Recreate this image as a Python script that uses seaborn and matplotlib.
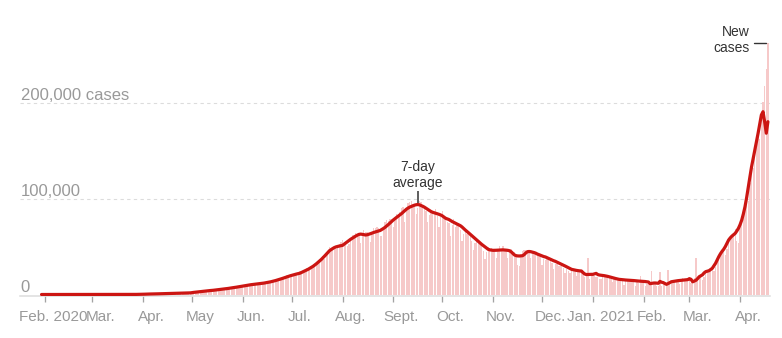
import numpy as np
import pandas as pd
import matplotlib
matplotlib.use("Agg")
import matplotlib.pyplot as plt
import matplotlib.dates as mdates
from matplotlib.transforms import ScaledTranslation, blended_transform_factory
import seaborn as sns

# Daily new cases and the 7-day average, in thousands, one list per month.
cases_2020_01 = [0, 0]  # from Jan. 30
avg_2020_01 = [0, 0]
cases_2020_02 = [0, 0, 0, 0, 0, 0, 0, 0, 0, 0, 0, 0, 0, 0, 0, 0, 0, 0, 0, 0,
                 0, 0, 0, 0, 0, 0, 0, 0, 0]
avg_2020_02 = [0, 0, 0, 0, 0, 0, 0, 0, 0, 0, 0, 0, 0, 0, 0, 0, 0, 0, 0, 0,
               0, 0, 0, 0, 0, 0, 0, 0, 0]
cases_2020_03 = [0, 0, 0, 0, 0.02, 0, 0, 0.01, 0.01, 0.01, 0.01, 0.01, 0.01, 0.02,
                 0.01, 0.03, 0.01, 0.03, 0.03, 0.05, 0.05, 0.08, 0.1, 0.1, 0.09,
                 0.09, 0.15, 0.19, 0.11, 0.11, 0.23]
avg_2020_03 = [0, 0, 0, 0, 0, 0, 0, 0, 0, 0, 0, 0, 0, 0, 0.01, 0.02, 0.02, 0.03,
               0.03, 0.04, 0.05, 0.06, 0.07, 0.08, 0.08, 0.09, 0.1, 0.11, 0.13,
               0.15, 0.18]
cases_2020_04 = [0.4, 0.5, 0.6, 0.5, 0.6, 0.5, 0.7, 0.5, 0.6, 0.9, 0.8, 0.9, 0.8,
                 1.2, 1.0, 1.1, 1.0, 1.0, 1.3, 1.6, 1.3, 1.5, 1.4, 1.7, 1.8, 1.6,
                 1.9, 1.5, 1.8, 1.9]
avg_2020_04 = [0.25, 0.32, 0.4, 0.45, 0.5, 0.52, 0.55, 0.6, 0.65, 0.7, 0.75, 0.8,
               0.85, 0.88, 0.9, 0.95, 1.0, 1.05, 1.1, 1.15, 1.2, 1.25, 1.3, 1.35,
               1.4, 1.45, 1.5, 1.55, 1.6, 1.7]
cases_2020_05 = [2.0, 2.4, 2.6, 2.5, 3.9, 2.9, 3.6, 3.4, 3.3, 3.3, 4.2, 3.6, 3.5,
                 3.7, 3.9, 3.9, 5.0, 4.9, 5.1, 5.6, 5.7, 6.1, 6.7, 6.6, 6.8, 7.0,
                 6.5, 6.4, 7.3, 7.9, 7.9]
avg_2020_05 = [2.0, 2.2, 2.4, 2.6, 2.8, 3.0, 3.2, 3.4, 3.6, 3.8, 3.9, 4.1, 4.2,
               4.4, 4.6, 4.8, 5.0, 5.2, 5.4, 5.6, 5.8, 6.1, 6.3, 6.6, 6.8, 7.1,
               7.3, 7.6, 7.9, 8.2, 8.5]
cases_2020_06 = [8.4, 8.3, 8.6, 9.3, 9.9, 9.9, 10.4, 9.9, 9.9, 9.8, 11.1, 11.3,
                 11.0, 12.0, 11.3, 10.6, 11.5, 13.6, 13.4, 14.3, 15.4, 14.8, 14.9,
                 16.9, 16.9, 18.6, 17.0, 20.0, 19.9, 18.5]
avg_2020_06 = [8.8, 9.1, 9.4, 9.7, 10.0, 10.2, 10.4, 10.6, 10.8, 11.0, 11.2, 11.4,
               11.6, 11.9, 12.2, 12.5, 12.8, 13.2, 13.6, 14.0, 14.5, 15.0, 15.5,
               16.0, 16.6, 17.2, 17.8, 18.4, 19.0, 19.5]
cases_2020_07 = [18.6, 19.1, 22.0, 20.9, 22.7, 24.9, 24.2, 22.8, 25.6, 27.1, 27.8,
                 28.6, 28.6, 28.7, 29.4, 32.7, 35.0, 34.9, 37.4, 40.4, 37.1, 40.4,
                 45.7, 49.3, 48.9, 48.7, 50.0, 47.7, 48.5, 52.1, 55.1]
avg_2020_07 = [20.0, 20.5, 21.0, 21.4, 21.8, 22.2, 23.0, 23.8, 24.6, 25.4, 26.3,
               27.3, 28.3, 29.4, 30.7, 32.0, 33.5, 35.0, 36.5, 38.2, 40.0, 41.8,
               43.7, 45.6, 46.8, 47.9, 48.9, 49.6, 50.1, 50.5, 50.8]
cases_2020_08 = [57.1, 54.7, 52.9, 50.6, 52.5, 56.3, 62.2, 62.5, 64.4, 61.5, 62.1,
                 53.6, 60.9, 66.9, 64.6, 65.0, 63.5, 55.1, 64.5, 69.7, 68.9, 70.5,
                 69.2, 61.4, 60.9, 67.2, 75.8, 77.3, 76.5, 78.8, 78.5]
avg_2020_08 = [51.2, 52.5, 53.8, 55.2, 56.5, 57.6, 58.7, 59.8, 60.8, 61.8, 62.6,
               62.9, 62.7, 62.3, 62.0, 62.2, 62.7, 63.3, 64.0, 64.6, 65.1, 65.6,
               66.1, 66.7, 67.7, 68.8, 70.0, 71.4, 72.9, 74.5, 76.0]
cases_2020_09 = [69.9, 78.4, 83.9, 83.3, 86.4, 90.6, 90.8, 75.8, 89.7, 95.7, 96.6,
                 97.6, 94.4, 92.1, 83.8, 90.1, 97.9, 96.4, 93.3, 92.6, 86.9, 75.1,
                 83.3, 86.5, 86.1, 85.4, 88.6, 82.2, 70.6, 80.5]
avg_2020_09 = [77.6, 79.0, 80.3, 81.6, 82.8, 84.2, 85.7, 87.2, 88.8, 90.0, 91.0,
               91.7, 92.4, 93.1, 93.5, 93.7, 93.4, 92.7, 91.9, 91.0, 89.9, 88.8,
               87.6, 86.5, 85.7, 85.1, 84.6, 84.1, 83.5, 82.8]
cases_2020_10 = [86.8, 81.5, 79.5, 75.8, 74.4, 61.3, 72.0, 78.5, 70.5, 73.3, 74.4,
                 66.7, 55.3, 63.5, 67.7, 63.4, 62.2, 61.9, 55.7, 46.8, 54.0, 55.8,
                 53.4, 54.4, 50.1, 45.1, 36.5, 43.9, 49.9, 48.6, 48.3]
avg_2020_10 = [81.9, 80.7, 79.4, 78.8, 78.1, 77.0, 76.0, 75.1, 74.2, 73.4, 72.6,
               71.7, 70.4, 68.8, 67.2, 65.8, 64.3, 62.8, 61.3, 59.8, 58.3, 56.8,
               55.3, 53.8, 52.3, 51.0, 49.6, 48.3, 47.1, 46.5, 46.2]
cases_2020_11 = [46.9, 45.2, 38.3, 46.3, 50.2, 47.6, 50.4, 45.7, 45.9, 38.1, 44.3,
                 47.9, 44.9, 44.7, 41.1, 30.5, 29.2, 38.6, 45.6, 45.9, 46.2, 45.2,
                 44.1, 37.9, 44.4, 44.5, 43.1, 41.3, 41.8, 38.8]
avg_2020_11 = [46.0, 46.0, 46.1, 46.2, 46.3, 46.4, 46.5, 46.4, 46.2, 46.0, 45.6,
               44.6, 43.0, 41.3, 40.5, 40.2, 40.1, 40.2, 40.4, 41.5, 43.3, 44.6,
               44.8, 44.6, 44.2, 43.7, 43.1, 42.2, 41.5, 40.7]
cases_2020_12 = [31.1, 36.6, 35.6, 36.6, 36.0, 36.0, 32.9, 26.6, 32.1, 31.5, 29.4,
                 30.0, 30.3, 27.1, 22.1, 26.4, 24.0, 22.9, 25.2, 26.6, 24.3, 19.6,
                 23.9, 24.7, 23.1, 22.3, 18.7, 20.0, 38.0, 16.4, 20.6]
avg_2020_12 = [40.0, 39.5, 39.1, 38.3, 37.5, 36.7, 35.9, 35.2, 34.6, 33.8, 33.0,
               32.2, 31.3, 30.5, 29.7, 28.8, 27.9, 27.0, 26.2, 25.8, 25.4, 25.1,
               24.8, 24.6, 24.5, 22.8, 21.4, 20.8, 20.9, 21.0, 21.0]
cases_2021_01 = [20.0, 19.1, 18.2, 18.2, 16.5, 16.4, 18.1, 20.3, 18.1, 18.6, 18.6,
                 16.3, 12.6, 15.9, 16.9, 15.6, 15.1, 15.1, 13.8, 10.1, 13.8, 15.2,
                 14.5, 14.3, 14.0, 13.2, 9.1, 12.7, 11.7, 18.9, 13.1]
avg_2021_01 = [21.0, 21.5, 22.0, 20.8, 20.3, 20.1, 19.9, 19.6, 19.3, 18.9, 18.5,
               18.0, 17.5, 17.1, 16.6, 16.2, 15.8, 15.6, 15.4, 15.2, 15.1, 15.0,
               14.8, 14.7, 14.6, 14.5, 14.3, 14.1, 14.0, 13.9, 13.8]
cases_2021_02 = [13.0, 8.6, 11.0, 12.9, 12.4, 25.0, 11.8, 11.8, 9.1, 9.1, 23.0,
                 9.3, 12.1, 12.2, 11.6, 26.0, 11.6, 12.9, 13.2, 13.2, 14.3, 14.2,
                 10.6, 13.7, 16.7, 16.6, 16.5, 16.8]
avg_2021_02 = [13.7, 13.5, 13.2, 13.0, 11.3, 11.6, 11.9, 12.0, 11.8, 11.7, 13.7,
               12.8, 12.4, 11.5, 10.6, 11.4, 12.4, 13.3, 13.6, 13.9, 14.2, 14.4,
               14.6, 14.8, 15.0, 15.1, 15.3, 15.5]
cases_2021_03 = [15.5, 12.3, 14.9, 17.4, 38.0, 18.3, 18.7, 18.6, 15.4, 17.9, 22.9,
                 23.3, 24.9, 25.3, 26.3, 24.5, 28.9, 35.9, 39.7, 40.9, 43.8, 46.9,
                 40.7, 47.3, 53.5, 59.1, 62.3, 62.7, 68.0, 56.2, 53.5]
avg_2021_03 = [16.5, 15.8, 13.2, 14.0, 14.8, 16.5, 18.5, 19.5, 20.5, 22.5, 23.8,
               24.3, 24.8, 26.0, 27.3, 29.8, 32.5, 36.0, 39.5, 42.5, 45.0, 47.2,
               50.0, 53.5, 56.8, 59.0, 60.8, 62.3, 63.7, 66.2, 69.0]
cases_2021_04 = [72.3, 81.5, 89.1, 93.2, 103.6, 96.9, 115.7, 126.8, 131.9, 145.4,
                 152.9, 168.9, 161.7, 184.4, 200.7, 217.4, 234.7, 261.5]
avg_2021_04 = [72.8, 77.6, 84.0, 91.5, 101.0, 112.0, 122.5, 133.0, 142.0, 150.5,
               159.0, 168.0, 177.5, 187.0, 190.4, 180.0, 168.0, 180.0]

month_labels = ["Feb. 2020", "Mar.", "Apr.", "May", "Jun.", "Jul.", "Aug.",
                "Sept.", "Oct.", "Nov.", "Dec.", "Jan. 2021", "Feb.", "Mar.", "Apr."]
y_ticks = [0, 100_000, 200_000]
y_tick_labels = ["0", "100,000", "200,000 cases"]

blocks = [
    ("2020-01-30", cases_2020_01, avg_2020_01),
    ("2020-02-01", cases_2020_02, avg_2020_02),
    ("2020-03-01", cases_2020_03, avg_2020_03),
    ("2020-04-01", cases_2020_04, avg_2020_04),
    ("2020-05-01", cases_2020_05, avg_2020_05),
    ("2020-06-01", cases_2020_06, avg_2020_06),
    ("2020-07-01", cases_2020_07, avg_2020_07),
    ("2020-08-01", cases_2020_08, avg_2020_08),
    ("2020-09-01", cases_2020_09, avg_2020_09),
    ("2020-10-01", cases_2020_10, avg_2020_10),
    ("2020-11-01", cases_2020_11, avg_2020_11),
    ("2020-12-01", cases_2020_12, avg_2020_12),
    ("2021-01-01", cases_2021_01, avg_2021_01),
    ("2021-02-01", cases_2021_02, avg_2021_02),
    ("2021-03-01", cases_2021_03, avg_2021_03),
    ("2021-04-01", cases_2021_04, avg_2021_04),
]
frames = []
for start, c, a in blocks:
    frames.append(pd.DataFrame({
        "date": pd.date_range(start, periods=len(c), freq="D"),
        "cases": np.asarray(c, float) * 1000,
        "avg": np.asarray(a, float) * 1000,
    }))
df = pd.concat(frames, ignore_index=True)
df["x"] = mdates.date2num(df["date"])

# ---- style ----
sns.set_theme(style="white")
plt.rcParams["font.family"] = ["Liberation Sans", "DejaVu Sans"]

BAR = "#f6c9c9"
RED = "#cc1512"
GREY = "#999999"
DARK = "#333333"

W, H, DPI = 782, 338, 100
fig = plt.figure(figsize=(W / DPI, H / DPI), dpi=DPI)

# plot area in pixels, and the scale that maps days/cases onto it
left_px, right_px, top_px, bottom_px = 20, 769.5, 20, 295.5
feb1_px, px_per_day = 44.8, 1.636
zero_px, px_per_case = 294.5, 0.96 / 1000

ax = fig.add_axes([left_px / W, (H - bottom_px) / H,
                   (right_px - left_px) / W, (bottom_px - top_px) / H])

sns.barplot(data=df, x="x", y="cases", native_scale=True, width=0.8,
            color=BAR, saturation=1, linewidth=0, errorbar=None, ax=ax, zorder=1)
sns.lineplot(data=df, x="x", y="avg", color=RED, linewidth=2.3, ax=ax, zorder=3,
             solid_capstyle="round", solid_joinstyle="round")

origin = mdates.date2num(pd.Timestamp("2020-02-01"))
ax.set_xlim(origin + (left_px - feb1_px) / px_per_day,
            origin + (right_px - feb1_px) / px_per_day)
ax.set_ylim(-(bottom_px - zero_px) / px_per_case, (zero_px - top_px) / px_per_case)
ax.set_xlabel("")
ax.set_ylabel("")

for s in ("top", "right", "left"):
    ax.spines[s].set_visible(False)
ax.spines["bottom"].set_color("#dddddd")
ax.spines["bottom"].set_linewidth(1.1)

# dashed guides
for v in y_ticks[1:]:
    ax.axhline(v, color="#dcdcdc", lw=0.8, ls=(0, (3, 3)), zorder=0.5)

# y labels sit just above their guide lines
ytrans = blended_transform_factory(ax.transAxes, ax.transData) + \
    ScaledTranslation(0.7 / DPI, 3 / DPI, fig.dpi_scale_trans)
for v, lbl in zip(y_ticks, y_tick_labels):
    ax.text(0, v, lbl, transform=ytrans, ha="left", va="baseline",
            fontsize=12, color=GREY)
ax.set_yticks([])

# month ticks
month_starts = mdates.date2num(pd.date_range("2020-02-01", "2021-04-01", freq="MS"))
ax.set_xticks(month_starts)
ax.set_xticklabels([])
ax.tick_params(axis="x", which="major", direction="out", bottom=True,
               length=4.3, width=0.95, color="#a3a3a3", labelbottom=False)
xtrans = blended_transform_factory(ax.transData, ax.transAxes) + \
    ScaledTranslation(8 / DPI, -25.2 / DPI, fig.dpi_scale_trans)
for m, lbl in zip(month_starts, month_labels):
    ax.text(m, 0, lbl, transform=xtrans, ha="center", va="baseline",
            fontsize=11, color=GREY)

# annotation: 7-day average, at its 2020 peak
first_wave = df[df["date"] < "2021-01-01"]
pk = first_wave["avg"].idxmax()
px_, py_ = df.loc[pk, "x"], df.loc[pk, "avg"]
ax.plot([px_, px_], [py_ + 1200, py_ + 14200], color=DARK, lw=1.1,
        solid_capstyle="butt", zorder=4)
ax.text(px_, py_ + 15200, "7-day\naverage", ha="center", va="bottom",
        fontsize=10, color=DARK)

# annotation: new cases, at the latest daily bar
nk = df["cases"].idxmax()
nx, ny = df.loc[nk, "x"], df.loc[nk, "cases"]
ax.plot([nx - 8.5, nx - 1.2], [ny, ny], color=DARK, lw=1.0, zorder=4)
ax.text(nx - 11, ny + 3500, "New\ncases", ha="right", va="center",
        fontsize=10, color=DARK)

fig.savefig("out.png", dpi=DPI)
